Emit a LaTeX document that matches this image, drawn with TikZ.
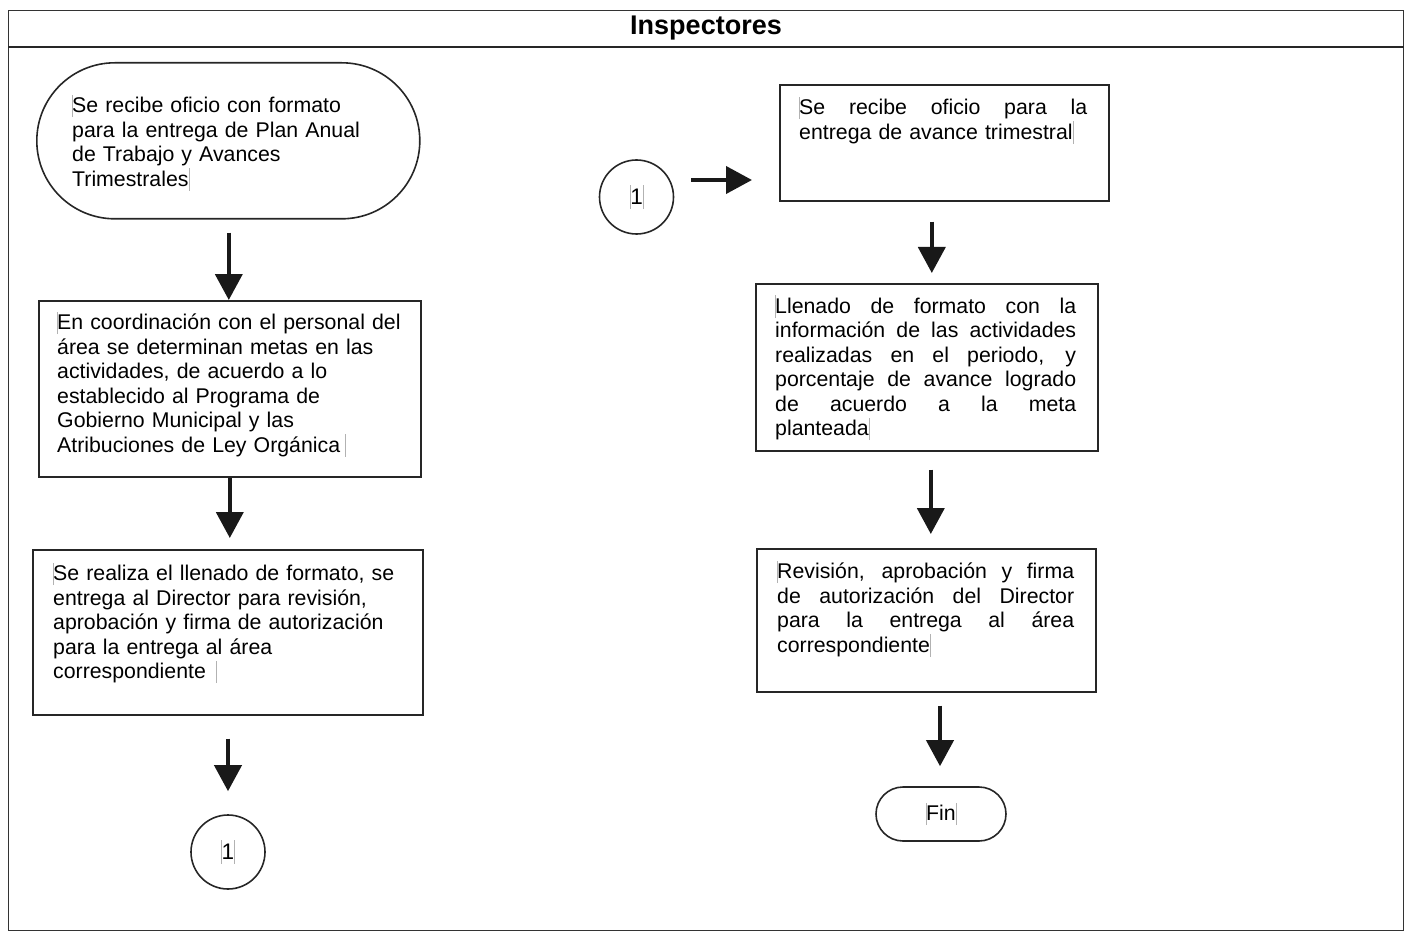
\documentclass[tikz,border=0pt]{standalone}
\usepackage{fontspec}
\setmainfont{Liberation Sans}
\usetikzlibrary{arrows.meta}

% body text size used throughout the flow chart
\newcommand\flowfont{\fontsize{21.3}{24.5}\selectfont}
% thin grey text-box marker
\newcommand\tbar{\textcolor{black!30}{\rule[-0.2em]{0.7pt}{1.05em}}}
% a fully justified line inside a text box: spaces stretch evenly
\newcommand\jline[1]{{\spaceskip=0.278em plus 1fil\xspaceskip=0.278em plus 1fil\makebox[\hsize][s]{#1}}}

\tikzset{
  lane/.style={draw=black!80, line width=1.2pt, rectangle, inner sep=0pt, anchor=north west},
  flowbox/.style={draw=black!85, line width=1.6pt, rectangle, inner sep=0pt, anchor=north west},
  termbox/.style={flowbox, rounded corners=#1},
  conn/.style={draw=black!85, line width=1.6pt, circle, minimum size=74pt, inner sep=0pt, font=\fontsize{22.5}{26}\selectfont},
  txt/.style={inner sep=0pt, anchor=north west, align=left, font=\flowfont,
    execute at begin node={\noindent\rule{0pt}{0.9em}}},
  arr/.style={draw=black!90, line width=4pt, -{Triangle[width=27pt,length=26pt]}},
}

\begin{document}
\begin{tikzpicture}[x=1pt,y=-1pt]
\useasboundingbox (0,0) rectangle (1407,933);

% swim lane with its header
\node[lane, minimum width=1395pt, minimum height=920pt] (lane) at (8,10) {};
\draw[draw=black!85, line width=1.8pt] (lane.north west) ++(0,37) coordinate (hl) -- (hl -| lane.east);
\node[font=\fontsize{27}{31}\selectfont\bfseries] (title) at (706,28) {Inspectores};

% ---- left column ----
\node[termbox=78pt, minimum width=383pt, minimum height=156pt] (start) at (36,62) {};
\node[txt, text width=330pt] (startt) at (72,93.6)
  {\llap{\tbar}Se recibe oficio con formato\\
   para la entrega de Plan Anual\\
   de Trabajo y Avances\\
   Trimestrales\tbar};

\node[flowbox, minimum width=382pt, minimum height=176pt] (b2) at (38,300) {};
\node[txt, text width=358pt] (b2t) at (57,310.6)
  {\llap{\tbar}En coordinación con el personal del\\
   área se determinan metas en las\\
   actividades, de acuerdo a lo\\
   establecido al Programa de\\
   Gobierno Municipal y las\\
   Atribuciones de Ley Orgánica\hspace{5pt}\tbar};

\node[flowbox, minimum width=390pt, minimum height=165pt] (b3) at (32,549) {};
\node[txt, text width=360pt] (b3t) at (53,561.6)
  {\llap{\tbar}Se realiza el llenado de formato, se\\
   entrega al Director para revisión,\\
   aprobación y firma de autorización\\
   para la entrega al área\\
   correspondiente\hspace{10pt}\tbar};

\node[conn] (c1) at (228,852) {\tbar1\tbar};

% ---- right column ----
\node[conn] (c2) at (636.5,197) {\tbar1\tbar};

\node[flowbox, minimum width=329pt, minimum height=116pt] (r1) at (779,84) {};
\node[txt, text width=288pt] (r1t) at (799,95.6)
  {\llap{\tbar}\jline{Se recibe oficio para la}\\
   entrega de avance trimestral\tbar};

\node[flowbox, minimum width=342pt, minimum height=167pt] (r2) at (755,283) {};
\node[txt, text width=301pt] (r2t) at (775,294.1)
  {\llap{\tbar}\jline{Llenado de formato con la}\\
   \jline{información de las actividades}\\
   \jline{realizadas en el periodo, y}\\
   \jline{porcentaje de avance logrado}\\
   \jline{de acuerdo a la meta}\\
   planteada\tbar};

\node[flowbox, minimum width=339pt, minimum height=143pt] (r3) at (756,548) {};
\node[txt, text width=297pt] (r3t) at (777,559.6)
  {\llap{\tbar}\jline{Revisión, aprobación y firma}\\
   \jline{de autorización del Director}\\
   \jline{para la entrega al área}\\
   correspondiente\tbar};

\node[termbox=27pt, anchor=center, minimum width=130pt, minimum height=54pt, font=\flowfont] (fin) at (941,814) {\tbar Fin\tbar};

% ---- connectors ----
\draw[arr, shorten <=13pt] ([xshift=0.5pt]start.south) -- ([xshift=0.5pt]start.south |- b2.north);
\draw[arr, shorten >=11pt] (b2.south) -- (b2.south |- b3.north);
\draw[arr, shorten <=23pt, shorten >=23pt] (c1.north |- b3.south) -- (c1.north);
\draw[arr, shorten <=17pt, shorten >=27pt] ([yshift=17pt]c2.east) -- ([yshift=17pt]c2.east -| r1.west);
\draw[arr, shorten <=20pt, shorten >=10pt] ([xshift=-12.5pt]r1.south) -- ([xshift=-12.5pt]r1.south |- r2.north);
\draw[arr, shorten <=18pt, shorten >=14pt] ([xshift=4pt]r2.south) -- ([xshift=4pt]r2.south |- r3.north);
\draw[arr, shorten <=13pt, shorten >=20pt] ([xshift=-1pt]fin.north |- r3.south) -- ([xshift=-1pt]fin.north);
\end{tikzpicture}
\end{document}
